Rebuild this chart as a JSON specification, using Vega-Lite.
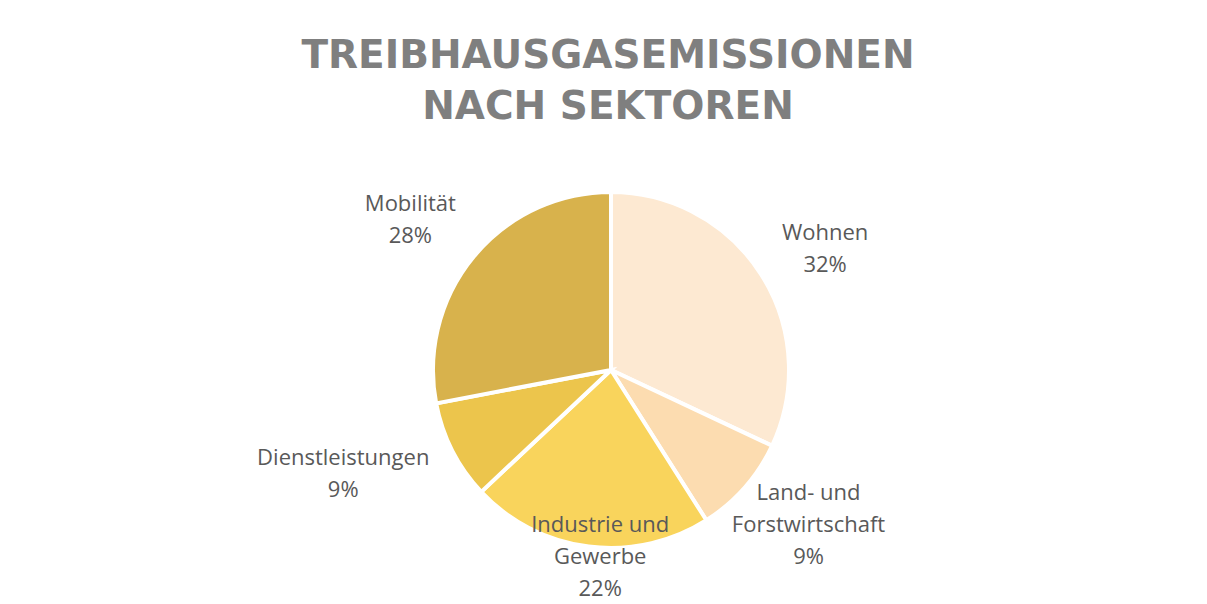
{
  "$schema": "https://vega.github.io/schema/vega-lite/v6.json",
  "autosize": "none",
  "width": 1192,
  "height": 460,
  "padding": {"left": 15, "top": 140, "right": 0, "bottom": 0},
  "background": "white",
  "view": {"stroke": null},
  "title": {
    "text": ["TREIBHAUSGASEMISSIONEN", "NACH SEKTOREN"],
    "font": "DejaVu Sans",
    "fontSize": 39,
    "fontWeight": "bold",
    "color": "#7f7f7f",
    "lineHeight": 51,
    "anchor": "middle",
    "dx": -3,
    "offset": 13
  },
  "data": {
    "values": [
      {"sector": "Wohnen", "label": "Wohnen", "value": 32},
      {"sector": "Land- und Forstwirtschaft", "label": "Land- und\nForstwirtschaft", "value": 9},
      {"sector": "Industrie und Gewerbe", "label": "Industrie und\nGewerbe", "value": 22},
      {"sector": "Dienstleistungen", "label": "Dienstleistungen", "value": 9},
      {"sector": "Mobilität", "label": "Mobilität", "value": 28}
    ]
  },
  "transform": [
    {"window": [{"op": "row_number", "as": "idx"}]},
    {"calculate": "datum.label + '\\n' + datum.value + '%'", "as": "text"}
  ],
  "encoding": {
    "theta": {"field": "value", "type": "quantitative", "stack": true},
    "order": {"field": "idx", "type": "quantitative"}
  },
  "layer": [
    {
      "mark": {"type": "arc", "outerRadius": 178, "stroke": "white", "strokeWidth": 4},
      "encoding": {
        "color": {
          "field": "sector",
          "type": "nominal",
          "legend": null,
          "scale": {
            "domain": ["Wohnen", "Land- und Forstwirtschaft", "Industrie und Gewerbe", "Dienstleistungen", "Mobilität"],
            "range": ["#fde9d2", "#fcdcb0", "#f9d45c", "#ecc54c", "#d8b24c"]
          }
        }
      }
    },
    {
      "mark": {
        "type": "text",
        "font": "Open Sans",
        "fontSize": 22,
        "color": "#595959",
        "lineBreak": "\n",
        "lineHeight": 32,
        "align": "center",
        "baseline": "middle",
        "radius": {"expr": "datum.sector === 'Industrie und Gewerbe' ? 158 : 250"},
        "dx": {"expr": "datum.sector === 'Land- und Forstwirtschaft' ? 10 : datum.sector === 'Industrie und Gewerbe' ? 9 : datum.sector === 'Dienstleistungen' ? -45 : datum.sector === 'Mobilität' ? -8 : 3"},
        "dy": {"expr": "datum.sector === 'Land- und Forstwirtschaft' ? -42 : datum.sector === 'Industrie und Gewerbe' ? -2 : datum.sector === 'Dienstleistungen' ? -25 : datum.sector === 'Mobilität' ? -7 : -3"}
      },
      "encoding": {
        "text": {"field": "text"}
      }
    }
  ]
}
